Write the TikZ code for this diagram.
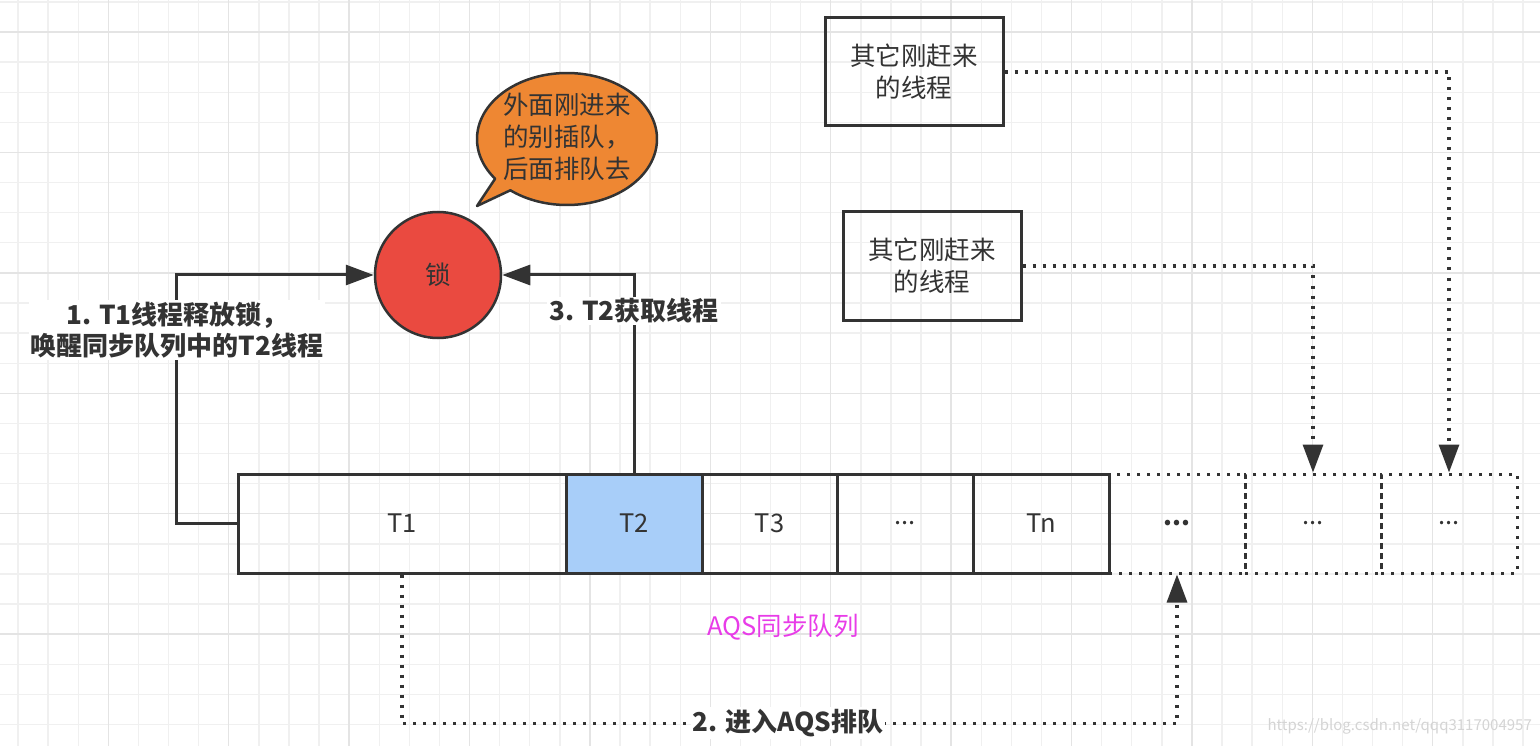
\documentclass[tikz,border=0pt]{standalone}
\usepackage{fontspec}
\setmainfont{Noto Sans CJK SC}
\usetikzlibrary{arrows.meta}
\definecolor{stroke}{RGB}{51,51,51}
\definecolor{lockred}{RGB}{234,74,64}
\definecolor{bubble}{RGB}{238,135,51}
\definecolor{tblue}{RGB}{168,206,249}
\definecolor{aqs}{RGB}{232,60,232}
\definecolor{gminor}{RGB}{240,240,240}
\definecolor{gmajor}{RGB}{228,228,228}
\definecolor{wm}{RGB}{212,212,212}
\begin{document}
\begin{tikzpicture}[x=1pt,y=-1pt,
  txt/.style={font=\fontsize{25.5}{32}\selectfont, text=stroke},
  cell/.style={txt, draw=stroke, line width=3pt, inner sep=0pt, minimum height=99pt},
  dcell/.style={cell, dash pattern=on 3pt off 7pt},
  box/.style={txt, draw=stroke, line width=3pt, inner sep=0pt, minimum width=178pt, minimum height=108pt, align=center},
  lbl/.style={font=\bfseries\fontsize{26}{31}\selectfont, text=stroke, fill=white, inner sep=2pt, align=center},
  conn/.style={draw=stroke, line width=3pt, -{Triangle[length=28pt,width=20pt]}},
  dconn/.style={conn, line width=3.2pt, dash pattern=on 3pt off 7pt},
  gridminor/.style={draw=gminor, line width=1.4pt},
  gridmajor/.style={draw=gmajor, line width=1.4pt}
]
\useasboundingbox (0,0) rectangle (1540,746);
\fill[white] (0,0) rectangle (1540,746);
% grid
\foreach \k in {0,...,50} {\draw[gridminor] ({18+30.1*\k},0) -- ({18+30.1*\k},746);}
\foreach \k in {0,...,24} {\draw[gridminor] (0,{2+30.1*\k}) -- (1540,{2+30.1*\k});}
\foreach \k in {3,7,...,51} {\draw[gridmajor] ({18+30.1*\k},0) -- ({18+30.1*\k},746);}
\foreach \k in {1,5,...,25} {\draw[gridmajor] (0,{2+30.1*\k}) -- (1540,{2+30.1*\k});}

% speech bubble
\filldraw[fill=bubble, draw=stroke, line width=2.5pt, line join=round]
  (477,206) -- plot[domain=143:489, samples=160] ({567+90*cos(\x)},{139+66*sin(\x)}) -- cycle;
\node[txt, align=left, inner sep=0pt] (bubbletext) at (567,137) {外面刚进来\\的别插队，\\后面排队去};

% lock
\node[circle, draw=stroke, fill=lockred, line width=2.5pt, minimum size=126pt, inner sep=0pt, txt] (lock) at (438,275) {锁};

% queue
\node[cell, minimum width=328pt] (c1) at (402,523.5) {T1};
\node[cell, minimum width=136pt, fill=tblue] (c2) at (634,523.5) {T2};
\node[cell, minimum width=135pt] (c3) at (769.5,523.5) {T3};
\node[cell, minimum width=136pt] (c4) at (905,523.5) {...};
\node[cell, minimum width=136pt] (c5) at (1041,523.5) {Tn};
\node[dcell, minimum width=136pt] (c6) at (1177,523.5) {\textbf{...}};
\node[dcell, minimum width=136pt] (c7) at (1313,523.5) {...};
\node[dcell, minimum width=136pt] (c8) at (1449,523.5) {...};
\node[txt, text=aqs, inner sep=0pt] (aqslabel) at (783,627) {AQS同步队列};

% other threads
\node[box] (b1) at (914,72) {其它刚赶来\\的线程};
\node[box] (b2) at (932,266) {其它刚赶来\\的线程};

% connectors
\draw[conn] (c1.west) -- ++(-60,0) |- (lock.west);
\draw[conn] (c2.north) |- (lock.east);
\draw[dconn] (c1.south) -- ++(0,149) -| (c6.south);
\draw[dconn] (b1.east) -| (c8.north);
\draw[dconn] (b2.east) -| (c7.north);

% labels
\node[lbl] (l1) at (177,330) {1. T1线程释放锁，\\唤醒同步队列中的T2线程};
\node[lbl] (l3) at (634,311) {3. T2获取线程};
\node[lbl] (l2) at (788,723) {2. 进入AQS排队};

% watermark
\node[font=\fontsize{15}{18}\selectfont, text=wm, inner sep=0pt, anchor=east] (wmark) at (1532,726) {https://blog.csdn.net/qqq3117004957};
\end{tikzpicture}
\end{document}
